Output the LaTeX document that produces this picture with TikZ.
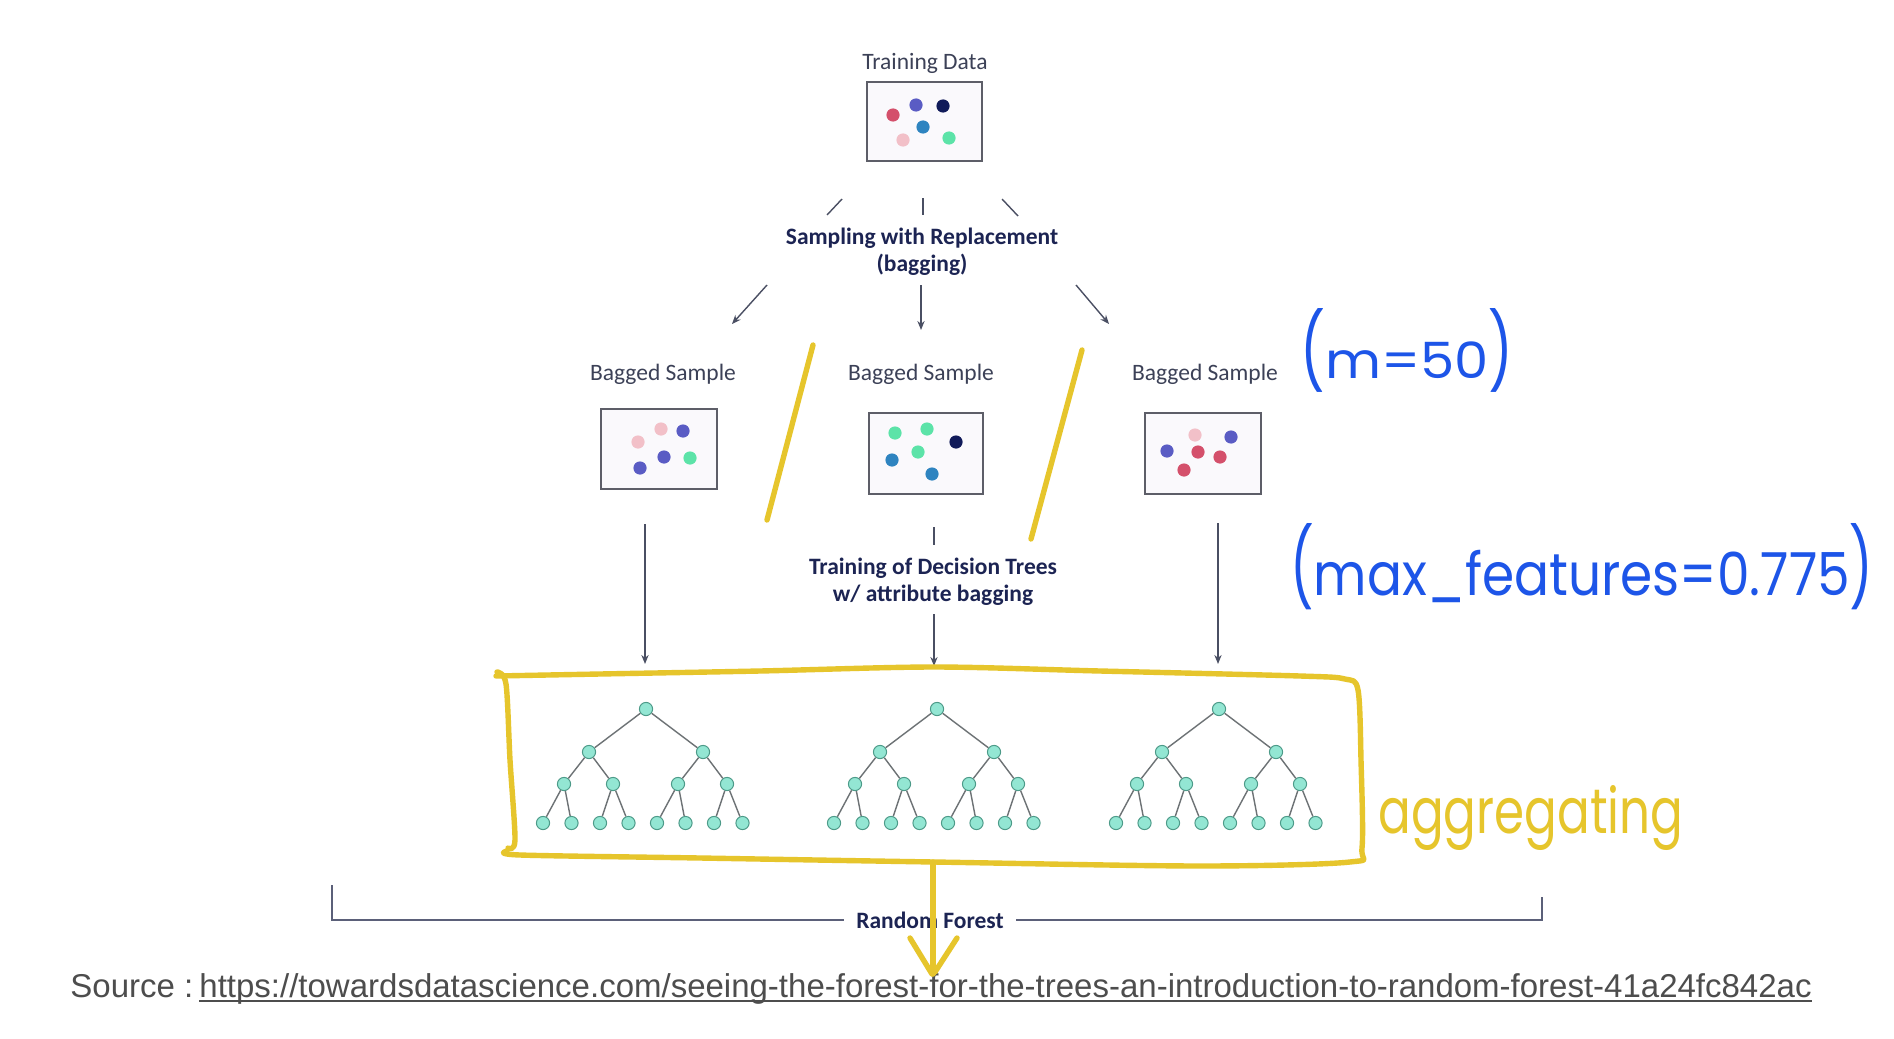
\documentclass[tikz,border=0pt]{standalone}
\usepackage{fontspec}
\setmainfont{Carlito}
\newfontfamily\arialf{Liberation Sans}
\newfontfamily\handf{Poppins}
\usetikzlibrary{arrows.meta,calc}
\definecolor{labelc}{HTML}{3C4157}
\definecolor{navyt}{HTML}{1C2453}
\definecolor{boxc}{HTML}{5D5E68}
\definecolor{boxfill}{HTML}{FAF9FC}
\definecolor{arrc}{HTML}{4A4F63}
\definecolor{cred}{HTML}{D4506B}
\definecolor{cpur}{HTML}{5A5CC4}
\definecolor{cnavy}{HTML}{111B5A}
\definecolor{cblue}{HTML}{2E84C0}
\definecolor{cpink}{HTML}{F2C0C8}
\definecolor{cgreen}{HTML}{5CE3A8}
\definecolor{tnf}{HTML}{93E6D3}
\definecolor{tnb}{HTML}{4C9A88}
\definecolor{edgec}{HTML}{6D7275}
\definecolor{yel}{HTML}{E6C52C}
\definecolor{handblue}{HTML}{1D55E8}
\definecolor{srcc}{HTML}{4D4D4D}
\definecolor{brkc}{HTML}{5B6079}
\newcommand{\tallparen}[2]{\scalebox{1}[#1]{#2}}
\begin{document}
\begin{tikzpicture}[x=0.5pt,y=-0.5pt,
  lbl/.style={font=\fontsize{11.75pt}{13.5pt}\selectfont, text=labelc, inner sep=0pt},
  bld/.style={font=\fontsize{11.75pt}{13.5pt}\selectfont\bfseries, text=navyt, align=center, inner sep=0pt},
  databox/.style={draw=boxc, line width=0.8pt, fill=boxfill, inner sep=0pt},
  dot/.style={circle, inner sep=0pt, minimum size=6.6pt},
  tn/.style={circle, draw=tnb, fill=tnf, line width=0.5pt, minimum size=6.6pt, inner sep=0pt},
  edge/.style={draw=edgec, line width=0.7pt},
  arr/.style={draw=arrc, line width=0.7pt, -{Stealth[length=4.5pt,width=3.6pt]}},
  tick/.style={draw=arrc, line width=0.7pt},
  hl/.style={draw=yel, line width=2.7pt, line cap=round, line join=round},
  hand/.style={inner sep=0pt, anchor=base west, font=\handf},
  brk/.style={draw=brkc, line width=0.9pt},
  src/.style={font=\arialf\fontsize{16.5pt}{19pt}\selectfont, text=srcc, inner sep=0pt, anchor=base west}]
\useasboundingbox (0,0) rectangle (1894,1038);
\fill[white] (0,0) rectangle (1894,1038);

% ---- Training data
\node[lbl, anchor=base] (tdl) at (925,70) {Training Data};
\node[databox, minimum width=57.5pt, minimum height=39.5pt] (tdb) at (924.5,121.5) {};
\node[dot, fill=cred]  (td1) at (893,115) {};
\node[dot, fill=cpur]  (td2) at (916,105) {};
\node[dot, fill=cnavy] (td3) at (943,106) {};
\node[dot, fill=cblue] (td4) at (923,127) {};
\node[dot, fill=cpink] (td5) at (903,140) {};
\node[dot, fill=cgreen](td6) at (949,138) {};

% ---- short ticks
\coordinate (k1a) at (842,199); \coordinate (k1b) at (827,215);
\coordinate (k2a) at (923,198); \coordinate (k2b) at (923,215);
\coordinate (k3a) at (1002,199); \coordinate (k3b) at (1018,216);
\draw[tick] (k1a) -- (k1b);
\draw[tick] (k2a) -- (k2b);
\draw[tick] (k3a) -- (k3b);

\node[bld] (samp) at (922,252) {Sampling with Replacement\\(bagging)};

\coordinate (a1s) at (767,285); \coordinate (a1e) at (732,324);
\coordinate (a2s) at (921,285); \coordinate (a2e) at (921,330);
\coordinate (a3s) at (1076,285); \coordinate (a3e) at (1109,324);
\draw[arr] (a1s) -- (a1e);
\draw[arr] (a2s) -- (a2e);
\draw[arr] (a3s) -- (a3e);

% ---- Bagged samples
\node[lbl, anchor=base] (bl1) at (663,380) {Bagged Sample};
\node[lbl, anchor=base] (bl2) at (921,380) {Bagged Sample};
\node[lbl, anchor=base] (bl3) at (1205,380) {Bagged Sample};
\node[databox, minimum width=58pt, minimum height=40pt] (bb1) at (659,449) {};
\node[databox, minimum width=57pt, minimum height=40.5pt] (bb2) at (926,453.5) {};
\node[databox, minimum width=58pt, minimum height=40.5pt] (bb3) at (1203,453.5) {};
\node[dot, fill=cpink] (l1) at (638,442) {};
\node[dot, fill=cpink] (l2) at (661,429) {};
\node[dot, fill=cpur]  (l3) at (683,431) {};
\node[dot, fill=cpur]  (l4) at (664,457) {};
\node[dot, fill=cgreen](l5) at (690,458) {};
\node[dot, fill=cpur]  (l6) at (640,468) {};
\node[dot, fill=cgreen](m1) at (895,433) {};
\node[dot, fill=cgreen](m2) at (927,429) {};
\node[dot, fill=cnavy] (m3) at (956,442) {};
\node[dot, fill=cgreen](m4) at (918,452) {};
\node[dot, fill=cblue] (m5) at (892,460) {};
\node[dot, fill=cblue] (m6) at (932,474) {};
\node[dot, fill=cpink] (r1) at (1195,435) {};
\node[dot, fill=cpur]  (r2) at (1231,437) {};
\node[dot, fill=cpur]  (r3) at (1167,451) {};
\node[dot, fill=cred]  (r4) at (1198,452) {};
\node[dot, fill=cred]  (r5) at (1220,457) {};
\node[dot, fill=cred]  (r6) at (1184,470) {};

% ---- training of trees
\node[bld] (tdt) at (933,582) {Training of Decision Trees\\w/ attribute bagging};
\coordinate (d1s) at (645,524); \coordinate (d1e) at (645,664);
\coordinate (d2a) at (934,527); \coordinate (d2b) at (934,545);
\coordinate (d2s) at (934,614); \coordinate (d2e) at (934,666);
\coordinate (d3s) at (1218,523); \coordinate (d3e) at (1218,664);
\draw[arr] (d1s) -- (d1e);
\draw[tick] (d2a) -- (d2b);
\draw[arr] (d2s) -- (d2e);
\draw[arr] (d3s) -- (d3e);

% ---- trees
\foreach \t/\rx in {A/646,B/937,C/1219}{
  \node[tn] (\t0) at (\rx,709) {};
  \node[tn] (\t1) at (\rx-57,752) {};
  \node[tn] (\t2) at (\rx+57,752) {};
  \node[tn] (\t3) at (\rx-82,784) {};
  \node[tn] (\t4) at (\rx-33,784) {};
  \node[tn] (\t5) at (\rx+32,784) {};
  \node[tn] (\t6) at (\rx+81,784) {};
  \foreach \k in {0,...,7}{
    \pgfmathtruncatemacro{\nn}{7+\k}
    \node[tn] (\t\nn) at (\rx-103+28.5*\k,823) {};
  }
  \draw[edge] (\t0) -- (\t1);
  \draw[edge] (\t0) -- (\t2);
  \draw[edge] (\t1) -- (\t3);
  \draw[edge] (\t1) -- (\t4);
  \draw[edge] (\t2) -- (\t5);
  \draw[edge] (\t2) -- (\t6);
  \draw[edge] (\t3) -- (\t7);
  \draw[edge] (\t3) -- (\t8);
  \draw[edge] (\t4) -- (\t9);
  \draw[edge] (\t4) -- (\t10);
  \draw[edge] (\t5) -- (\t11);
  \draw[edge] (\t5) -- (\t12);
  \draw[edge] (\t6) -- (\t13);
  \draw[edge] (\t6) -- (\t14);
}

% ---- Random forest bracket
\node[bld, inner xsep=6pt] (rf) at (930,920) {Random Forest};
\coordinate (rfl) at (332,885);
\coordinate (rfr) at (1542,897);
\draw[brk] (rf.west) -- (rfl |- rf.west) -- (rfl);
\draw[brk] (rf.east) -- (rfr |- rf.east) -- (rfr);

% ---- source
\node[src] (srcl) at (70,997) {Source :};
\node[src] (url) at (199,997) {https://towardsdatascience.com/seeing-the-forest-for-the-trees-an-introduction-to-random-forest-41a24fc842ac};
\draw[srcc, line width=0.9pt] ([yshift=-2pt]url.base west) -- ([yshift=-2pt]url.base east);

% ---- yellow annotations
\draw[hl] (813,345) -- (767,520);
\draw[hl] (1082,350) -- (1031,539);
\draw[hl] plot[smooth, tension=0.5] coordinates {(496,676) (600,674) (760,671) (934,667) (1100,671) (1300,676) (1345,679) (1358,690) (1361,760) (1362,848) (1350,862) (1200,866) (934,862) (700,858) (520,855) (507,851)};
\draw[hl] plot[smooth, tension=0.5] coordinates {(497,672) (506,684) (510,760) (515,840) (508,848)};
\coordinate (ya) at (933,862); \coordinate (yb) at (933,974);
\draw[hl] (ya) -- (yb);
\draw[hl] (910,938) -- (932,974);
\draw[hl] (957,938) -- (935,972);
\node[hand, text=yel] (agg) at (1378,833) {\resizebox{152.5pt}{24pt}{aggregating}};

% ---- blue annotations
\node[hand, text=handblue] (m50) at (1300,378) {\resizebox{106.5pt}{35pt}{\tallparen{1.5}{(}m=50\tallparen{1.5}{)}}};
\node[hand, text=handblue] (mf) at (1290,595) {\resizebox{291.5pt}{36pt}{\tallparen{1.3}{(}max\_features=0.775\tallparen{1.3}{)}}};
\end{tikzpicture}
\end{document}
